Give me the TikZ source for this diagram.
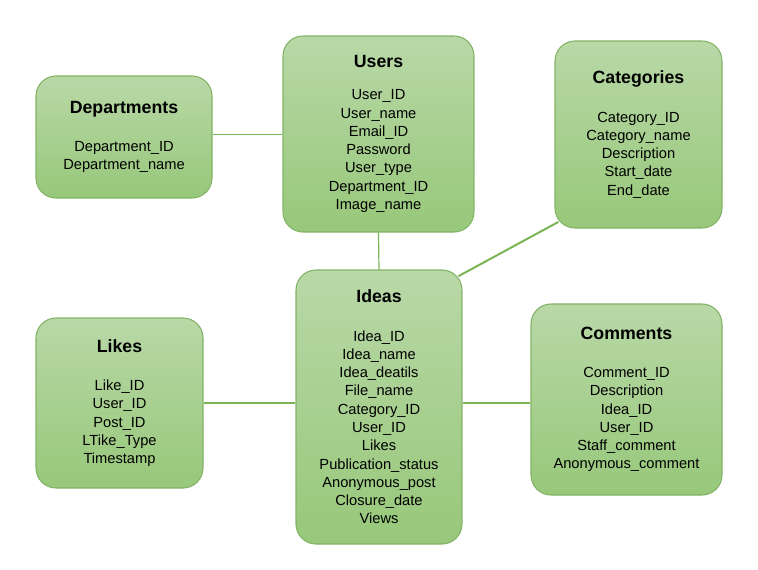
\documentclass[tikz,border=0pt]{standalone}
\usepackage{fontspec}
\setmainfont{Liberation Sans}
\usepackage{tikz}
\usetikzlibrary{calc}

\definecolor{boxtop}{HTML}{B9D8A7}
\definecolor{boxbot}{HTML}{97C87A}
\definecolor{boxline}{HTML}{82B366}
\definecolor{linkgreen}{HTML}{7CB553}

\tikzset{
  tbl/.style={draw=boxline,line width=0.8pt,rounded corners=15pt,
    top color=boxtop,bottom color=boxbot,align=center,
    font=\fontsize{11}{13.7}\selectfont,inner sep=0pt},
  link/.style={draw=linkgreen,line width=0.9pt},
}
\newcommand{\tbltitle}[1]{{\fontsize{13.3}{13.7}\selectfont\bfseries #1}}

\begin{document}
\begin{tikzpicture}[x=0.75pt,y=-0.75pt]
\useasboundingbox (0,0) rectangle (758,569);
% tables
\node[tbl,minimum width=176*0.75pt,minimum height=122*0.75pt] (dept) at (124,137)
  {\tbltitle{Departments}\\[15pt]Department\_ID\\Department\_name};
\node[tbl,minimum width=191*0.75pt,minimum height=196*0.75pt] (users) at (378.5,134)
  {\tbltitle{Users}\\[10.5pt]User\_ID\\User\_name\\Email\_ID\\Password\\User\_type\\Department\_ID\\Image\_name};
\node[tbl,minimum width=167*0.75pt,minimum height=187*0.75pt] (cat) at (638.5,134.5)
  {\tbltitle{Categories}\\[15pt]Category\_ID\\Category\_name\\Description\\Start\_date\\End\_date};
\node[tbl,minimum width=166*0.75pt,minimum height=274*0.75pt] (ideas) at (379,407)
  {\tbltitle{Ideas}\\[15pt]Idea\_ID\\Idea\_name\\Idea\_deatils\\File\_name\\Category\_ID\\User\_ID\\Likes\\Publication\_status\\Anonymous\_post\\Closure\_date\\Views};
\node[tbl,minimum width=167*0.75pt,minimum height=170*0.75pt] (likes) at (119.5,403)
  {\tbltitle{Likes}\\[15pt]Like\_ID\\User\_ID\\Post\_ID\\LTike\_Type\\Timestamp};
\node[tbl,minimum width=191*0.75pt,minimum height=191*0.75pt] (comments) at (626.5,399.5)
  {\tbltitle{Comments}\\[15pt]Comment\_ID\\Description\\Idea\_ID\\User\_ID\\Staff\_comment\\Anonymous\_comment};
% links
\draw[link] ([yshift=2pt]dept.east) -- ([yshift=2pt]dept.east -| users.west);
\draw[link] (users.south) -- (ideas.north);
\draw[link,line width=1.5pt] ([xshift=3pt,yshift=5pt]cat.south west) -- ([xshift=-3pt,yshift=-5pt]ideas.north east);
\draw[link] (likes.east) -- (likes.east -| ideas.west);
\draw[link] (ideas.east |- likes.east) -- (comments.west |- likes.east);
\end{tikzpicture}
\end{document}
